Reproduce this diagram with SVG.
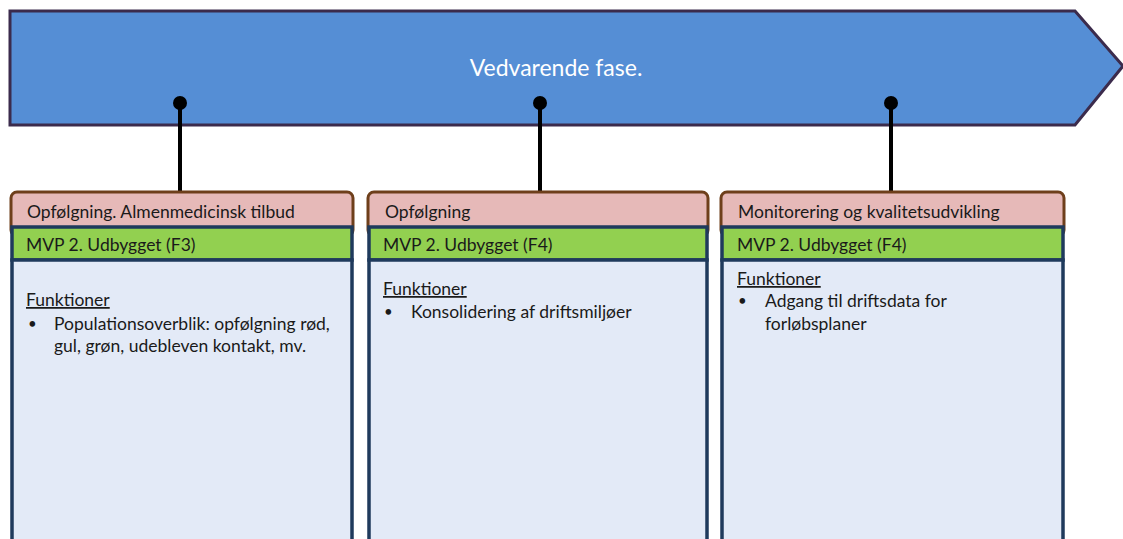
<svg xmlns="http://www.w3.org/2000/svg" width="1123" height="539" viewBox="0 0 1123 539">
  <style>
    .txt { font-family: Lato, "Open Sans", sans-serif; font-size: 17.5px; fill: #1a1a1a; }
    .title { font-family: Lato, "Open Sans", sans-serif; font-size: 23px; fill: #ffffff; }
    .blt { font-family: Lato, "Open Sans", sans-serif; font-size: 15px; fill: #1a1a1a; }
    .hdr { fill: #e6b9b8; stroke: #6e3f1b; stroke-width: 3; }
    .band { fill: #92d050; stroke: #1f3a5c; stroke-width: 3.5; }
    .body { fill: #e3eaf7; stroke: #1f3a5c; stroke-width: 3.5; }
    .link { stroke: #000000; stroke-width: 4; fill: none; }
    .u { text-decoration: underline; }
  </style>

  <!-- phase banner -->
  <g id="phase">
    <polygon points="10,11 1075,11 1123,66 1075,125 10,125" fill="#558ed5" stroke="#3b2b4c" stroke-width="3" stroke-linejoin="miter"/>
    <text class="title" x="556" y="76" text-anchor="middle">Vedvarende fase.</text>
  </g>

  <!-- connectors from banner to cards -->
  <g id="connectors">
    <line class="link" x1="180" y1="103" x2="180" y2="191"/>
    <circle cx="180" cy="103" r="7" fill="#000"/>
    <line class="link" x1="540" y1="103" x2="540" y2="191"/>
    <circle cx="540" cy="103" r="7" fill="#000"/>
    <line class="link" x1="891" y1="103" x2="891" y2="191"/>
    <circle cx="891" cy="103" r="7" fill="#000"/>
  </g>

  <!-- card 1 -->
  <g id="card1">
    <rect class="hdr" x="11" y="192" width="342" height="44" rx="6"/>
    <rect class="band" x="12" y="227" width="340" height="33"/>
    <rect class="body" x="12" y="260" width="340" height="285"/>
    <text class="txt" x="27" y="218">Opfølgning. Almenmedicinsk tilbud</text>
    <text class="txt" x="26" y="251">MVP 2. Udbygget (F3)</text>
    <text class="txt u" x="26" y="306">Funktioner</text>
    <text class="blt" x="28" y="329">•</text>
    <text class="txt" x="54" y="330">Populationsoverblik: opfølgning rød,</text>
    <text class="txt" x="54" y="352">gul, grøn, udebleven kontakt, mv.</text>
  </g>

  <!-- card 2 -->
  <g id="card2">
    <rect class="hdr" x="368" y="192" width="340" height="44" rx="6"/>
    <rect class="band" x="369" y="227" width="338" height="33"/>
    <rect class="body" x="369" y="260" width="338" height="285"/>
    <text class="txt" x="385" y="218">Opfølgning</text>
    <text class="txt" x="383" y="251">MVP 2. Udbygget (F4)</text>
    <text class="txt u" x="383" y="295">Funktioner</text>
    <text class="blt" x="384" y="317">•</text>
    <text class="txt" x="411" y="318">Konsolidering af driftsmiljøer</text>
  </g>

  <!-- card 3 -->
  <g id="card3">
    <rect class="hdr" x="721" y="192" width="343" height="44" rx="6"/>
    <rect class="band" x="722" y="227" width="341" height="33"/>
    <rect class="body" x="722" y="260" width="341" height="285"/>
    <text class="txt" x="738" y="218">Monitorering og kvalitetsudvikling</text>
    <text class="txt" x="737" y="251">MVP 2. Udbygget (F4)</text>
    <text class="txt u" x="737" y="285">Funktioner</text>
    <text class="blt" x="738" y="306">•</text>
    <text class="txt" x="765" y="307">Adgang til driftsdata for</text>
    <text class="txt" x="765" y="330">forløbsplaner</text>
  </g>
</svg>
